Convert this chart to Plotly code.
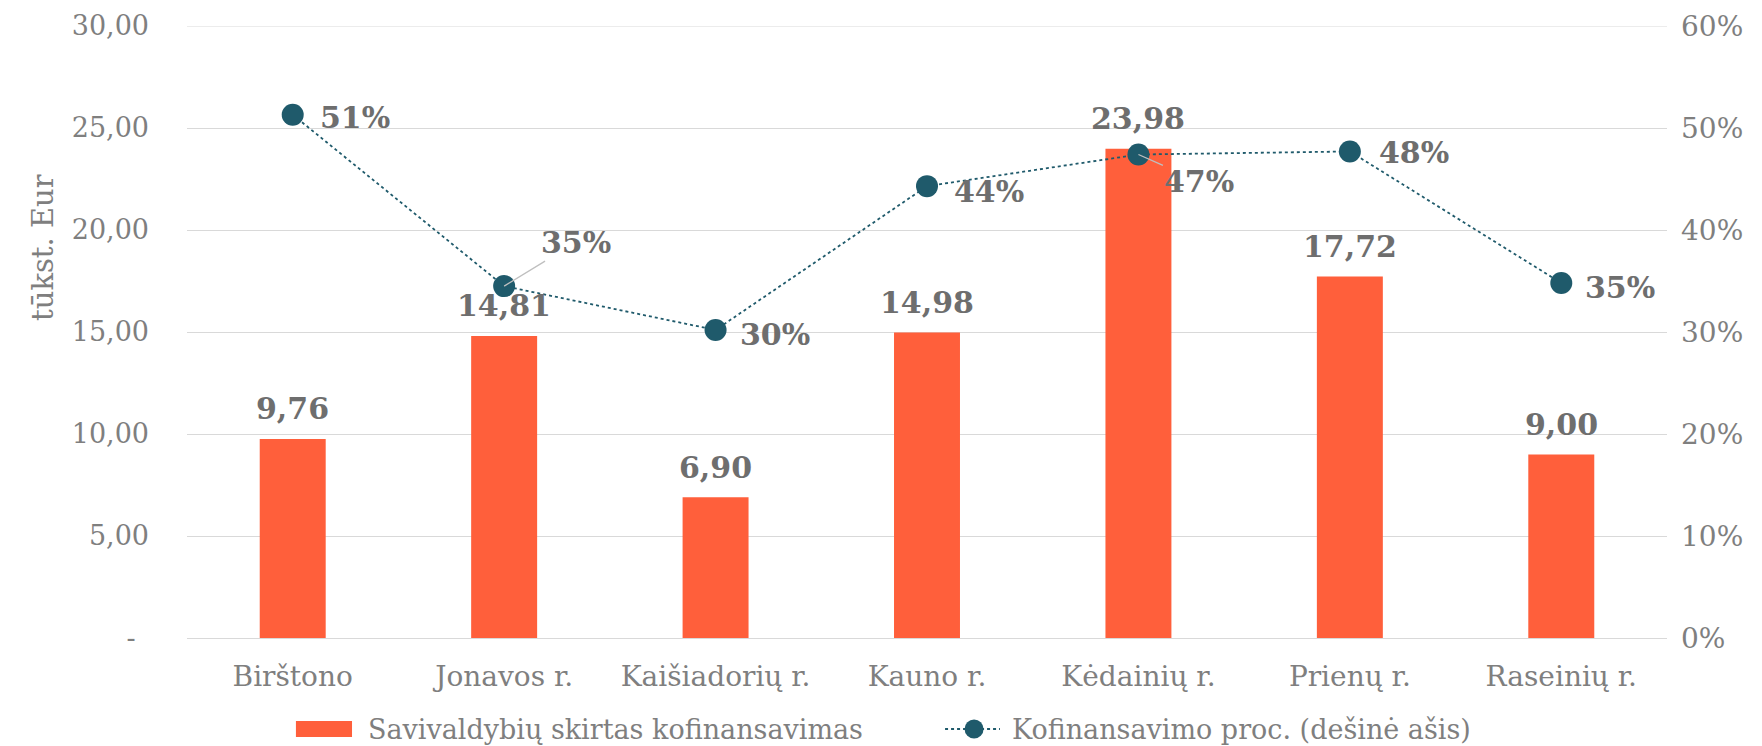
import plotly.graph_objects as go

categories = ["Birštono", "Jonavos r.", "Kaišiadorių r.", "Kauno r.", "Kėdainių r.", "Prienų r.", "Raseinių r."]
cofinancing = [9.76, 14.81, 6.90, 14.98, 23.98, 17.72, 9.00]
percent = [0.513, 0.345, 0.302, 0.443, 0.474, 0.477, 0.348]
percent_labels = ["51%", "35%", "30%", "44%", "47%", "48%", "35%"]
left_tickvals = [0, 5, 10, 15, 20, 25, 30]
left_ticktext = ["-\u2002", "5,00", "10,00", "15,00", "20,00", "25,00", "30,00"]
right_tickvals = [0, 0.1, 0.2, 0.3, 0.4, 0.5, 0.6]
bar_name = "Savivaldybių skirtas kofinansavimas"
line_name = "Kofinansavimo proc. (dešinė ašis)"
axis_title = "tūkst. Eur"

BAR = "#FF5F3B"
DOT = "#1F5A6B"
GRAY = "#7F7F7F"
LBL = "#6E6E6E"
GRID = "#D9D9D9"
FONT = "DejaVu Serif"

bar_text = [f"{v:.2f}".replace(".", ",") for v in cofinancing]

fig = go.Figure()
fig.add_trace(go.Bar(
    x=categories, y=cofinancing, name=bar_name,
    marker=dict(color=BAR, line=dict(width=0)),
    yaxis="y", showlegend=False,
))
fig.add_trace(go.Scatter(
    x=categories, y=percent, name=line_name,
    mode="lines+markers", yaxis="y2", showlegend=False,
    line=dict(color=DOT, width=1.8, dash="dot"),
    marker=dict(color=DOT, size=22),
    cliponaxis=False,
))

# top gridline (plotly skips the grid line lying on the plot edge)
fig.add_shape(type="line", xref="paper", yref="y", x0=0, x1=1,
              y0=left_tickvals[-1], y1=left_tickvals[-1],
              line=dict(color=GRID, width=1), layer="below")

# bar value labels
for c, v, t in zip(categories, cofinancing, bar_text):
    fig.add_annotation(
        x=c, y=v, xref="x", yref="y", text=t, showarrow=False,
        xanchor="center", yanchor="middle", yshift=30,
        font=dict(family=FONT, size=30, color=LBL, weight="bold"),
    )

# percent labels: (xshift of text left edge, yshift, leader)
offsets = [(25, -3, False), (37, 44, True), (22, -5, False), (25, -5, False),
           (26, -27, True), (27, -1, False), (22, -4, False)]
for c, p, lab, (dx, dy, leader) in zip(categories, percent, percent_labels, offsets):
    if leader:
        fig.add_annotation(
            x=c, y=p, xref="x", yref="y2", text=lab, showarrow=True,
            arrowhead=0, arrowwidth=1.3, arrowcolor="#BFBFBF",
            ax=dx + 35, ay=-dy, xanchor="center", yanchor="middle",
            standoff=0, startstandoff=0,
            font=dict(family=FONT, size=30, color=LBL, weight="bold"),
        )
    else:
        fig.add_annotation(
            x=c, y=p, xref="x", yref="y2", text=lab, showarrow=False,
            xanchor="left", yanchor="middle", xshift=dx, yshift=dy,
            font=dict(family=FONT, size=30, color=LBL, weight="bold"),
        )

# y axis title
fig.add_annotation(x=-0.0973, y=0.639, xref="paper", yref="paper", text=axis_title,
                   textangle=-90, showarrow=False, xanchor="center", yanchor="middle",
                   font=dict(family=FONT, size=29, color=GRAY))

# custom legend
LY = -0.1487
fig.add_shape(type="rect", xref="paper", yref="paper", x0=0.0736, x1=0.1115,
              y0=-0.1618, y1=-0.1356, fillcolor=BAR, line=dict(width=0))
fig.add_annotation(x=0.1209, y=LY, xref="paper", yref="paper", text=bar_name,
                   showarrow=False, xanchor="left", yanchor="middle",
                   font=dict(family=FONT, size=27, color=GRAY))
fig.add_shape(type="line", xref="paper", yref="paper", x0=0.5122, x1=0.5493,
              y0=LY, y1=LY, line=dict(color=DOT, width=1.8, dash="dot"))
fig.add_shape(type="circle", xref="paper", yref="paper", xsizemode="pixel", ysizemode="pixel",
              xanchor=0.5318, yanchor=LY, x0=-9.5, x1=9.5, y0=-9.5, y1=9.5,
              fillcolor=DOT, line=dict(width=0))
fig.add_annotation(x=0.5561, y=LY, xref="paper", yref="paper", text=line_name,
                   showarrow=False, xanchor="left", yanchor="middle",
                   font=dict(family=FONT, size=27, color=GRAY))

# page body has an 8px margin, so the figure is 8px smaller and offset accordingly
fig.update_layout(
    width=1754, height=738,
    margin=dict(l=179, r=95, t=18, b=108, autoexpand=False),
    plot_bgcolor="white", paper_bgcolor="white",
    bargap=0.688,
    font=dict(family=FONT, size=27, color=GRAY),
    showlegend=False,
    xaxis=dict(showgrid=False, showline=False, ticks="", automargin=False,
               ticklabelstandoff=19, tickfont=dict(size=28, color=GRAY)),
    yaxis=dict(range=[0, 30], tickvals=left_tickvals, ticktext=left_ticktext,
               showgrid=True, gridcolor=GRID, gridwidth=1,
               zeroline=True, zerolinecolor=GRID, zerolinewidth=1,
               showline=False, ticks="", automargin=False, ticklabelstandoff=37,
               tickfont=dict(size=27, color=GRAY)),
    yaxis2=dict(range=[0, 0.6], tickvals=right_tickvals, tickformat=".0%",
                overlaying="y", side="right", showgrid=False, zeroline=False,
                ticks="", automargin=False, ticklabelstandoff=13,
                tickfont=dict(size=28, color=GRAY)),
)

fig.write_html("out.html")
